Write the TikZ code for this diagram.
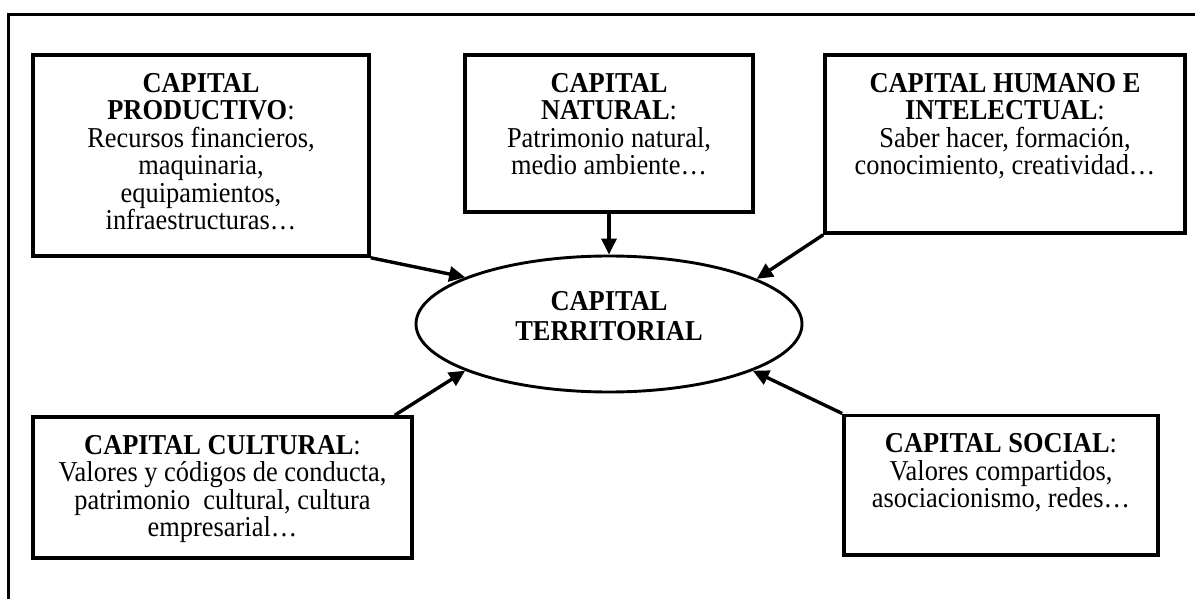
\documentclass[tikz,border=0pt]{standalone}
\usepackage{fontspec}
\setmainfont{Liberation Serif}[FakeStretch=0.917]
\usetikzlibrary{arrows.meta,shapes.geometric,calc}
\newcommand\capbody[3]{\parbox[c][#2pt][t]{#1pt}{\fontsize{28.8}{27.5}\selectfont\baselineskip=27.5pt\lineskiplimit=-10pt\vspace*{18.4pt}\centering #3\par}}
\begin{document}
\begin{tikzpicture}[x=1pt,y=-1pt,
  every node/.style={font=\fontsize{28.8}{27.5}\selectfont},
  capbox/.style={draw, line width=3.6pt, inner sep=0pt},
  arr/.style={line width=3.4pt, -{Triangle[length=16pt,width=15pt]}},
  frame/.style={line width=3.4pt},
]
\useasboundingbox (0,0) rectangle (1195,599);
% outer frame (left and top edges)
\draw[frame] (8.7,600) -- (8.7,14.3) -- (1196,14.3);

\node[capbox] (prod) at (201,155.5) {\capbody{336}{201}{\textbf{CAPITAL}\\\textbf{PRODUCTIVO}:\\Recursos financieros,\\maquinaria,\\equipamientos,\\infraestructuras…}};
\node[capbox] (nat) at (609,133.5) {\capbody{288}{157}{\textbf{CAPITAL}\\\textbf{NATURAL}:\\Patrimonio natural,\\medio ambiente…}};
\node[capbox] (hum) at (1005,144) {\capbody{360}{178}{\textbf{CAPITAL HUMANO E}\\\textbf{INTELECTUAL}:\\Saber hacer, formación,\\conocimiento, creatividad…}};
\node[capbox] (cult) at (222.5,487.5) {\capbody{379}{141}{\textbf{CAPITAL CULTURAL}:\\Valores y códigos de conducta,\\patrimonio\ \ cultural, cultura\\empresarial…}};
\node[capbox] (soc) at (1001,485) {\capbody{314}{139.4}{\textbf{CAPITAL SOCIAL}:\\Valores compartidos,\\asociacionismo, redes…}};

\node[ellipse, draw, line width=2.9pt, minimum width=386pt, minimum height=136pt, inner sep=0pt, align=center,
  font=\fontsize{28.8}{29.7}\selectfont\bfseries] (ter) at (609,324) {CAPITAL\\TERRITORIAL\rule[-15.6pt]{0pt}{15.6pt}};

\coordinate (cultstart) at ($(cult.north east)+(-19,0)$);

\draw[arr] (prod.south east) -- (ter.162.9);
\draw[arr] (nat.south) -- (ter.north);
\draw[arr] (hum.south west) -- (ter.17.5);
\draw[arr] (cultstart) -- (ter.198);
\draw[arr] (soc.north west) -- (ter.-18.3);
\end{tikzpicture}
\end{document}
